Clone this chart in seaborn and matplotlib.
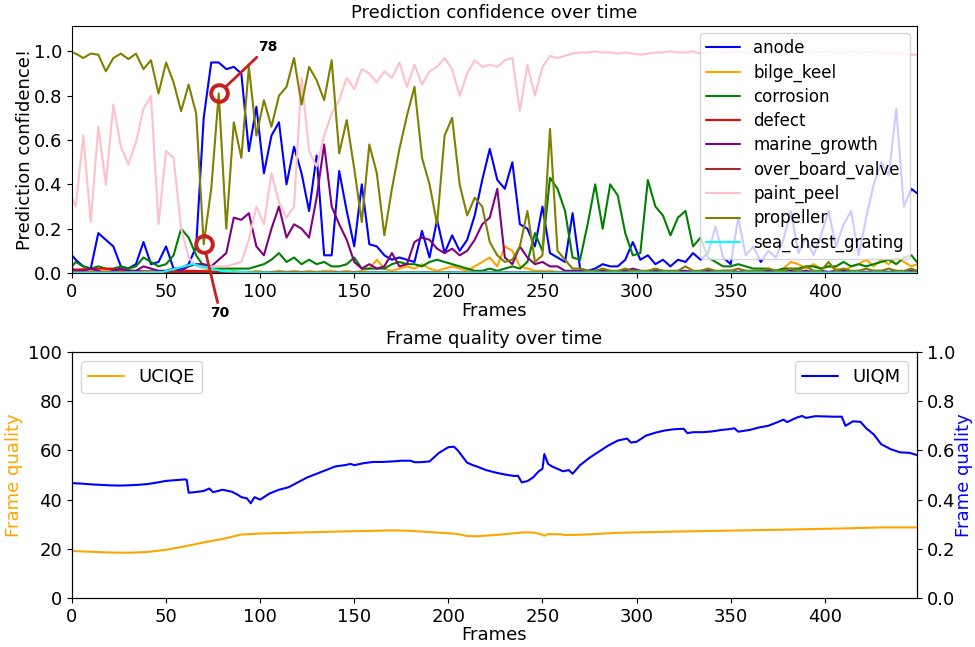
import numpy as np
import pandas as pd
import matplotlib
matplotlib.use("Agg")
import matplotlib.pyplot as plt
import seaborn as sns

# ---------------- data: prediction confidence ----------------
classes = ["anode", "bilge_keel", "corrosion", "defect", "marine_growth",
           "over_board_valve", "paint_peel", "propeller", "sea_chest_grating"]
class_colors = ["blue", "orange", "green", "red", "purple",
                "brown", "pink", "olive", "cyan"]

conf_frames = [0] + list(range(2, 447, 4)) + [449]

anode = [0.08, 0.06, 0.03, 0.02, 0.18, 0.15, 0.12, 0.03, 0.02, 0.04,
         0.14, 0.04, 0.05, 0.12, 0.02, 0.02, 0.04, 0.12, 0.70, 0.95,
         0.95, 0.92, 0.93, 0.90, 0.55, 0.75, 0.45, 0.62, 0.68, 0.40,
         0.57, 0.45, 0.28, 0.53, 0.08, 0.08, 0.46, 0.28, 0.12, 0.40,
         0.13, 0.12, 0.08, 0.06, 0.07, 0.06, 0.05, 0.19, 0.07, 0.24,
         0.09, 0.17, 0.10, 0.15, 0.26, 0.42, 0.56, 0.42, 0.38, 0.50,
         0.22, 0.20, 0.12, 0.30, 0.09, 0.07, 0.05, 0.27, 0.02, 0.01,
         0.02, 0.04, 0.03, 0.03, 0.06, 0.14, 0.06, 0.08, 0.04, 0.06,
         0.03, 0.06, 0.05, 0.09, 0.06, 0.09, 0.21, 0.07, 0.04, 0.25,
         0.08, 0.12, 0.05, 0.10, 0.07, 0.15, 0.28, 0.09, 0.16, 0.08,
         0.17, 0.28, 0.12, 0.22, 0.28, 0.08, 0.25, 0.40, 0.50, 0.44,
         0.74, 0.30, 0.38, 0.36]

bilge_keel = [0.01, 0.01, 0.005, 0.01, 0.005, 0.01, 0.005, 0.01, 0.005, 0.01,
              0.005, 0.01, 0.005, 0.005, 0.01, 0.005, 0.01, 0.005, 0.01, 0.02,
              0.01, 0.005, 0.01, 0.005, 0.005, 0.01, 0.005, 0.005, 0.01, 0.005,
              0.01, 0.005, 0.01, 0.005, 0.01, 0.01, 0.005, 0.01, 0.005, 0.01,
              0.02, 0.06, 0.02, 0.01, 0.02, 0.03, 0.02, 0.04, 0.02, 0.01,
              0.02, 0.03, 0.02, 0.01, 0.03, 0.05, 0.07, 0.03, 0.12, 0.10,
              0.03, 0.02, 0.01, 0.01, 0.01, 0.005, 0.005, 0.01, 0.005, 0.005,
              0.005, 0.01, 0.005, 0.005, 0.01, 0.005, 0.005, 0.01, 0.005, 0.005,
              0.01, 0.005, 0.005, 0.01, 0.005, 0.01, 0.005, 0.01, 0.01, 0.005,
              0.01, 0.005, 0.01, 0.01, 0.01, 0.02, 0.05, 0.04, 0.02, 0.04,
              0.02, 0.03, 0.02, 0.01, 0.03, 0.04, 0.06, 0.03, 0.06, 0.04,
              0.07, 0.05, 0.03, 0.04]

corrosion = [0.03, 0.05, 0.03, 0.02, 0.03, 0.02, 0.02, 0.03, 0.02, 0.03,
             0.07, 0.05, 0.03, 0.04, 0.08, 0.20, 0.16, 0.08, 0.03, 0.02,
             0.02, 0.02, 0.02, 0.02, 0.02, 0.03, 0.04, 0.06, 0.09, 0.05,
             0.07, 0.04, 0.06, 0.04, 0.05, 0.03, 0.03, 0.04, 0.07, 0.02,
             0.02, 0.02, 0.02, 0.04, 0.05, 0.04, 0.04, 0.03, 0.05, 0.06,
             0.05, 0.04, 0.03, 0.02, 0.01, 0.01, 0.02, 0.01, 0.02, 0.03,
             0.02, 0.05, 0.18, 0.10, 0.43, 0.38, 0.28, 0.07, 0.06, 0.22,
             0.40, 0.20, 0.40, 0.35, 0.18, 0.08, 0.09, 0.42, 0.30, 0.26,
             0.17, 0.25, 0.28, 0.12, 0.16, 0.07, 0.05, 0.03, 0.03, 0.04,
             0.03, 0.02, 0.02, 0.02, 0.01, 0.02, 0.02, 0.02, 0.03, 0.03,
             0.02, 0.03, 0.03, 0.05, 0.03, 0.04, 0.03, 0.04, 0.05, 0.06,
             0.04, 0.07, 0.08, 0.05]

marine_growth = [0.02, 0.01, 0.01, 0.02, 0.01, 0.00, 0.01, 0.02, 0.01, 0.01,
                 0.03, 0.02, 0.01, 0.01, 0.02, 0.01, 0.03, 0.04, 0.04, 0.03,
                 0.06, 0.09, 0.25, 0.24, 0.27, 0.12, 0.08, 0.20, 0.30, 0.16,
                 0.22, 0.20, 0.16, 0.34, 0.58, 0.30, 0.22, 0.15, 0.05, 0.02,
                 0.04, 0.02, 0.03, 0.09, 0.03, 0.04, 0.14, 0.16, 0.15, 0.11,
                 0.09, 0.11, 0.08, 0.10, 0.15, 0.22, 0.25, 0.38, 0.07, 0.04,
                 0.12, 0.07, 0.04, 0.05, 0.03, 0.03, 0.01, 0.01, 0.01, 0.01,
                 0.005, 0.01, 0.01, 0.005, 0.01, 0.02, 0.01, 0.005, 0.01, 0.01,
                 0.005, 0.01, 0.01, 0.005, 0.01, 0.01, 0.005, 0.01, 0.01, 0.005,
                 0.01, 0.005, 0.01, 0.01, 0.005, 0.01, 0.01, 0.005, 0.01, 0.005,
                 0.01, 0.005, 0.01, 0.01, 0.005, 0.01, 0.005, 0.01, 0.01, 0.005,
                 0.01, 0.005, 0.01, 0.01]

paint_peel = [0.34, 0.30, 0.62, 0.23, 0.66, 0.40, 0.76, 0.57, 0.49, 0.59,
              0.74, 0.80, 0.22, 0.55, 0.52, 0.20, 0.07, 0.03, 0.02, 0.03,
              0.03, 0.03, 0.04, 0.05, 0.15, 0.30, 0.22, 0.45, 0.32, 0.25,
              0.30, 0.88, 0.55, 0.48, 0.62, 0.72, 0.78, 0.88, 0.83, 0.92,
              0.90, 0.86, 0.91, 0.88, 0.95, 0.84, 0.94, 0.85, 0.91, 0.93,
              0.97, 0.92, 0.80, 0.90, 0.96, 0.93, 0.94, 0.93, 0.96, 0.97,
              0.73, 0.94, 0.80, 0.93, 0.98, 0.97, 0.98, 0.99, 0.995, 0.995,
              1.0, 0.995, 0.995, 0.99, 0.995, 0.99, 0.985, 0.99, 0.995, 0.995,
              1.0, 0.995, 0.995, 1.0, 0.99, 0.995, 1.0, 0.995, 0.995, 1.0,
              0.995, 0.995, 1.0, 0.995, 0.99, 0.995, 1.0, 0.995, 0.995, 1.0,
              0.995, 1.0, 0.995, 0.995, 1.0, 0.995, 0.995, 1.0, 0.995, 0.99,
              0.995, 0.99, 0.985, 0.985]

propeller = [0.995, 0.99, 0.97, 0.99, 0.985, 0.91, 0.97, 0.99, 0.965, 0.99,
             0.92, 0.96, 0.81, 0.95, 0.86, 0.73, 0.85, 0.72, 0.13, 0.38,
             0.81, 0.20, 0.68, 0.52, 0.93, 0.62, 0.78, 0.66, 0.80, 0.84,
             0.97, 0.76, 0.93, 0.87, 0.78, 0.96, 0.54, 0.69, 0.47, 0.23,
             0.58, 0.45, 0.17, 0.38, 0.56, 0.71, 0.84, 0.52, 0.40, 0.22,
             0.62, 0.70, 0.40, 0.26, 0.34, 0.30, 0.14, 0.08, 0.05, 0.06,
             0.12, 0.28, 0.05, 0.08, 0.65, 0.10, 0.06, 0.02, 0.02, 0.01,
             0.01, 0.02, 0.01, 0.01, 0.02, 0.01, 0.01, 0.01, 0.02, 0.01,
             0.01, 0.01, 0.03, 0.01, 0.01, 0.02, 0.01, 0.01, 0.01, 0.02,
             0.01, 0.01, 0.01, 0.02, 0.01, 0.01, 0.02, 0.01, 0.03, 0.01,
             0.01, 0.05, 0.01, 0.02, 0.01, 0.01, 0.02, 0.01, 0.01, 0.02,
             0.01, 0.01, 0.02, 0.01]

minor_frames = list(range(0, 449, 16))
defect = [0.015, 0.02, 0.01, 0.005, 0.01, 0.005, 0.003, 0.005, 0.003, 0.004,
          0.003, 0.002, 0.003, 0.002, 0.003, 0.002, 0.003, 0.002, 0.002, 0.003,
          0.002, 0.003, 0.002, 0.002, 0.003, 0.002, 0.003, 0.002, 0.003]
over_board_valve = [0.004, 0.003, 0.005, 0.003, 0.004, 0.003, 0.002, 0.003, 0.002, 0.003,
                    0.002, 0.002, 0.003, 0.002, 0.002, 0.003, 0.002, 0.002, 0.003, 0.002,
                    0.002, 0.003, 0.002, 0.002, 0.002, 0.003, 0.002, 0.002, 0.003]
sea_chest_grating = [0.002, 0.002, 0.003, 0.004, 0.04, 0.008, 0.003, 0.002, 0.002, 0.002,
                     0.002, 0.002, 0.002, 0.002, 0.002, 0.002, 0.002, 0.002, 0.002, 0.002,
                     0.002, 0.002, 0.002, 0.002, 0.002, 0.002, 0.002, 0.002, 0.002]

annotated_frames = [78, 70]

# ---------------- data: frame quality ----------------
uciqe_frames = [0, 10, 20, 30, 40, 50, 60, 70, 80, 90, 100, 120, 140, 160, 170, 180,
                190, 200, 205, 210, 215, 225, 240, 245, 249, 251, 253, 260, 262, 270,
                290, 320, 350, 380, 410, 430, 449]
uciqe = [19.1, 18.8, 18.5, 18.4, 18.7, 19.6, 21.0, 22.6, 24.0, 25.8, 26.2, 26.6, 27.0,
         27.3, 27.5, 27.3, 26.8, 26.3, 26.0, 25.2, 25.1, 25.6, 26.7, 26.6, 26.0, 25.3,
         26.0, 25.9, 25.6, 25.7, 26.5, 27.0, 27.4, 27.8, 28.3, 28.7, 28.7]

uiqm_frames = [0, 5, 10, 15, 20, 25, 30, 35, 40, 45, 50, 55, 60, 61, 62, 65, 70, 73, 75,
               80, 85, 88, 90, 93, 95, 97, 100, 105, 110, 115, 120, 125, 130, 135, 140,
               145, 148, 150, 155, 160, 165, 170, 175, 180, 182, 185, 190, 195, 200, 203,
               205, 210, 213, 215, 220, 225, 230, 235, 237, 239, 242, 245, 248, 250, 251,
               253, 255, 258, 261, 264, 266, 270, 275, 280, 285, 290, 295, 297, 300, 305,
               310, 315, 320, 325, 327, 330, 335, 340, 345, 350, 352, 354, 360, 365, 370,
               375, 378, 380, 385, 388, 390, 395, 400, 405, 409, 411, 415, 419, 422, 426,
               430, 435, 440, 445, 449]
uiqm = [0.467, 0.465, 0.462, 0.460, 0.458, 0.457, 0.458, 0.460, 0.463, 0.469, 0.476,
        0.479, 0.482, 0.480, 0.428, 0.430, 0.435, 0.445, 0.430, 0.440, 0.432, 0.420,
        0.410, 0.405, 0.385, 0.410, 0.400, 0.425, 0.440, 0.450, 0.470, 0.490, 0.505,
        0.520, 0.535, 0.540, 0.545, 0.540, 0.548, 0.553, 0.553, 0.555, 0.558, 0.558,
        0.552, 0.552, 0.555, 0.590, 0.613, 0.615, 0.600, 0.550, 0.540, 0.535, 0.520,
        0.510, 0.502, 0.496, 0.497, 0.470, 0.475, 0.490, 0.515, 0.525, 0.585, 0.545,
        0.535, 0.525, 0.515, 0.520, 0.505, 0.540, 0.570, 0.595, 0.620, 0.640, 0.648,
        0.632, 0.635, 0.660, 0.672, 0.681, 0.686, 0.688, 0.670, 0.674, 0.674, 0.677,
        0.683, 0.687, 0.690, 0.676, 0.683, 0.693, 0.700, 0.715, 0.725, 0.715, 0.733,
        0.740, 0.732, 0.739, 0.738, 0.737, 0.737, 0.700, 0.718, 0.716, 0.690, 0.665,
        0.625, 0.605, 0.592, 0.590, 0.581]

# ---------------- style ----------------
sns.set_theme(style="ticks", rc={
    "axes.edgecolor": "black", "axes.linewidth": 0.8,
    "text.color": "black", "axes.labelcolor": "black",
    "xtick.color": "black", "ytick.color": "black",
    "xtick.major.size": 3.5, "ytick.major.size": 3.5,
    "xtick.major.width": 0.8, "ytick.major.width": 0.8,
    "xtick.labelsize": 13, "ytick.labelsize": 13,
    "axes.labelsize": 13, "axes.titlesize": 13,
    "legend.fontsize": 13, "lines.linewidth": 1.5,
})
plt.rcParams["font.family"] = ["DejaVu Sans"]

series = {
    "anode": (conf_frames, anode),
    "bilge_keel": (conf_frames, bilge_keel),
    "corrosion": (conf_frames, corrosion),
    "defect": (minor_frames, defect),
    "marine_growth": (conf_frames, marine_growth),
    "over_board_valve": (minor_frames, over_board_valve),
    "paint_peel": (conf_frames, paint_peel),
    "propeller": (conf_frames, propeller),
    "sea_chest_grating": (minor_frames, sea_chest_grating),
}
conf_df = pd.concat(
    [pd.DataFrame({"Frames": fr, "confidence": vals, "class": name})
     for name, (fr, vals) in series.items()],
    ignore_index=True)

fig = plt.figure(figsize=(9.75, 6.47), dpi=100)
ax1 = fig.add_axes([0.0738, 0.578, 0.8667, 0.382])
ax2 = fig.add_axes([0.0738, 0.0757, 0.8667, 0.3803])

sns.lineplot(data=conf_df, x="Frames", y="confidence", hue="class",
             hue_order=classes, palette=dict(zip(classes, class_colors)),
             estimator=None, linewidth=1.5, ax=ax1)
ax1.set_xlim(0, 449)
ax1.set_ylim(0, 1.115)
ax1.set_title("Prediction confidence over time")
ax1.set_xlabel("Frames", labelpad=1)
ax1.set_ylabel("Prediction confidence!", labelpad=0)
sns.move_legend(ax1, "upper right", title=None, fontsize=12, frameon=True,
                labelspacing=0.37, borderaxespad=0.4)

red = "#c8201e"
prop_lookup = dict(zip(conf_frames, propeller))
text_pos = {78: (104, 1.02), 70: (78.7, -0.18)}
for f in annotated_frames:
    v = prop_lookup[f]
    ax1.plot([f], [v], marker="o", ms=12, mfc="none", mec=red, mew=2.8,
             linestyle="none", zorder=5)
    ax1.annotate(str(f), xy=(f, v), xytext=text_pos[f], textcoords="data",
                 fontsize=10, fontweight="bold", ha="center", va="center",
                 annotation_clip=False,
                 arrowprops=dict(arrowstyle="-", color=red, lw=2,
                                 shrinkA=0, shrinkB=7))

sns.lineplot(x=uciqe_frames, y=uciqe, color="orange", label="UCIQE",
             estimator=None, linewidth=1.5, ax=ax2)
ax3 = ax2.twinx()
sns.lineplot(x=uiqm_frames, y=uiqm, color="blue", label="UIQM",
             estimator=None, linewidth=1.5, ax=ax3)
ax2.set_xlim(0, 449)
ax2.set_ylim(0, 100)
ax3.set_ylim(0, 1.0)
ax2.set_title("Frame quality over time")
ax2.set_xlabel("Frames", labelpad=0)
ax2.set_ylabel("Frame quality", color="orange")
ax3.set_ylabel("Frame quality", color="blue", labelpad=0)
ax2.legend(loc="upper left", fontsize=13)
ax3.legend(loc="upper right", fontsize=13)

fig.savefig("out.png", dpi=100)
